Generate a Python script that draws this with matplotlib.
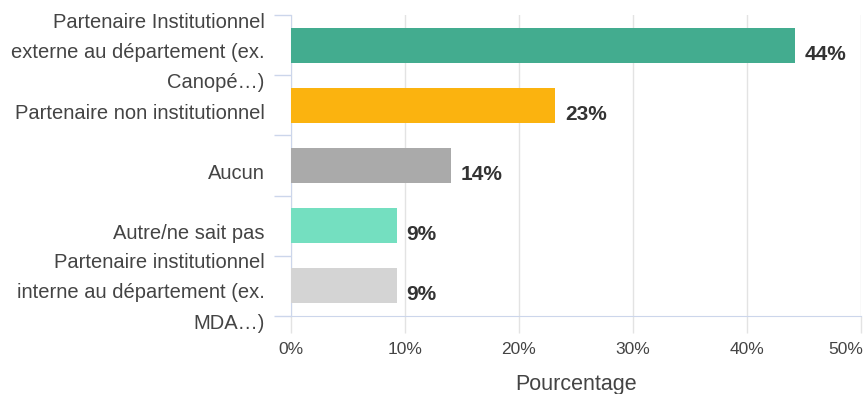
"""Horizontal bar chart of partner types (share of responses)."""

import matplotlib

matplotlib.use("Agg")

import matplotlib.pyplot as plt
from matplotlib.ticker import FixedLocator, PercentFormatter
from matplotlib.transforms import ScaledTranslation

plt.rcParams["font.family"] = ["Liberation Sans", "DejaVu Sans"]

categories = [
    "Partenaire Institutionnel\nexterne au département (ex.\nCanopé…)",
    "Partenaire non institutionnel",
    "Aucun",
    "Autre/ne sait pas",
    "Partenaire institutionnel\ninterne au département (ex.\nMDA…)",
]
values = [44.2, 23.2, 14.0, 9.3, 9.3]
value_labels = ["44%", "23%", "14%", "9%", "9%"]
colors = ["#43ac8f", "#fbb30f", "#aaaaaa", "#74dfc0", "#d4d4d4"]
x_ticks = [0, 10, 20, 30, 40, 50]

AXIS_COLOR = "#ccd6eb"
GRID_COLOR = "#e3e3e3"
TEXT_COLOR = "#444444"

fig = plt.figure(figsize=(8.65, 3.94), dpi=100)
ax = fig.add_axes([291 / 865, 1 - 316 / 394, 570 / 865, 301 / 394])

positions = list(range(len(categories)))
ax.barh(positions, values, height=0.58, color=colors, zorder=3)

for pos, val, text in zip(positions, values, value_labels):
    ax.annotate(
        text,
        xy=(val, pos),
        xytext=(7, -6.5),
        textcoords="offset points",
        va="center",
        ha="left",
        fontsize=15,
        fontweight="bold",
        color="#333333",
    )

ax.set_xlim(0, 50)
ax.set_ylim(len(categories) - 0.5, -0.5)

ax.set_xticks(x_ticks)
ax.xaxis.set_major_formatter(PercentFormatter(decimals=0))
ax.tick_params(axis="x", length=12, width=1, color=GRID_COLOR, pad=7,
               labelsize=12.5, labelcolor=TEXT_COLOR)
ax.grid(axis="x", color=GRID_COLOR, linewidth=1, zorder=0)
# keep the last tick label inside the figure
last = ax.get_xticklabels()[-1]
last.set_horizontalalignment("right")
last.set_transform(last.get_transform() + ScaledTranslation(2 / 100, 0, fig.dpi_scale_trans))

ax.set_yticks(positions)
ax.set_yticklabels(categories, linespacing=1.74)
ax.yaxis.set_minor_locator(FixedLocator([p - 0.5 for p in positions] + [positions[-1] + 0.5]))
ax.tick_params(axis="y", which="major", length=0, pad=19, labelsize=14.5,
               labelcolor=TEXT_COLOR)
ax.tick_params(axis="y", which="minor", length=12, width=1, color=AXIS_COLOR)
for label in ax.get_yticklabels():
    dy = 0.5 if "\n" in label.get_text() else -6
    label.set_transform(label.get_transform()
                        + ScaledTranslation(0, dy / 100, fig.dpi_scale_trans))

for side in ("top", "right"):
    ax.spines[side].set_visible(False)
ax.spines["left"].set_color(AXIS_COLOR)
ax.spines["bottom"].set_color(AXIS_COLOR)

ax.set_xlabel("Pourcentage", fontsize=15.5, color=TEXT_COLOR, labelpad=12)

fig.savefig("out.png", dpi=100)
